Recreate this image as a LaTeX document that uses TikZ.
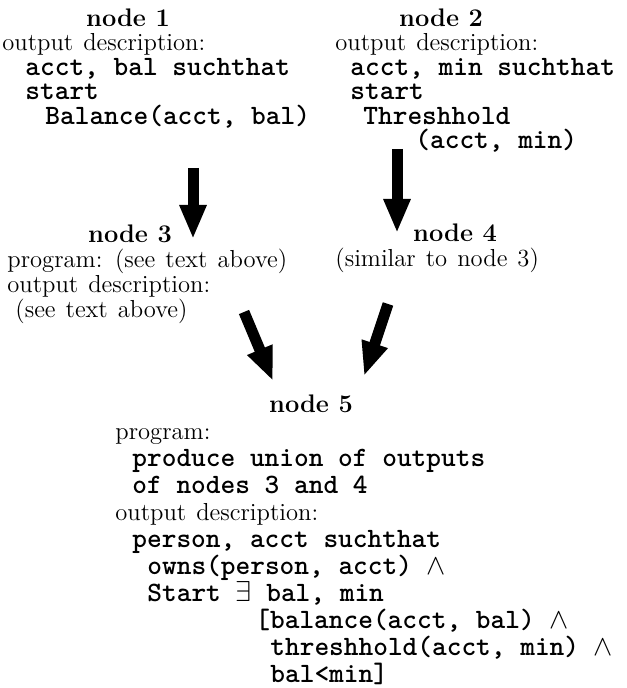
\documentclass[tikz,border=0pt]{standalone}
\usetikzlibrary{arrows.meta}
\newcommand{\code}[1]{{\spaceskip0pt\fontsize{14}{14}\ttfamily\bfseries #1}}
\newcommand{\linesat}[1]{\lineskiplimit-100pt\relax\lineskip0pt\relax\fontsize{12.3}{#1}\selectfont\spaceskip5pt plus 1pt\relax}
\tikzset{
  title/.style={anchor=base, inner sep=0pt, font=\fontsize{12.7}{12.7}\bfseries\selectfont},
  % anchor is the baseline of the last line
  body/.style={align=left, anchor=base west, inner sep=0pt, font={\linesat{#1}}},
  fatarrow/.style={line width=5.5pt, -{Triangle[length=17pt,width=12.5pt]}}
}

\begin{document}
\begin{tikzpicture}[x=0.5pt, y=-0.5pt]
            \useasboundingbox (0,0) rectangle (626,688);
            % top row
            \node[title] (t1) at (128,27) {node 1};
            \node[body=12.25pt] (b1) at (2,124.5) {output description:\\
              \hspace*{11.5pt}\code{acct, bal suchthat}\\
              \hspace*{11.5pt}\code{start}\\
              \hspace*{21.5pt}\code{Balance(acct, bal)}};
            \node[title] (t2) at (441,27) {node 2};
            \node[body=12.25pt] (b2) at (335,149) {output description:\\
              \hspace*{7.5pt}\code{acct, min suchthat}\\
              \hspace*{7.5pt}\code{start}\\
              \hspace*{14pt}\code{Threshhold}\\
              \hspace*{40pt}\code{(acct, min)}};
            % middle row
            \node[title] (t3) at (130,243) {node 3};
            \node[body=12.5pt] (b3) at (7,318) {program: (see text above)\\
              output description:\\
              \hspace*{4pt}(see text above)};
            \node[title] (t4) at (455,242) {node 4};
            \node[body=12.5pt] (b4) at (335,267) {(similar to node 3)};
            % bottom
            \node[title] (t5) at (311,412) {node 5};
            \node[body=13.5pt] (b5) at (115,682) {program:\\
              \hspace*{8.5pt}\code{produce union of outputs}\\
              \hspace*{8.5pt}\code{of nodes 3 and 4}\\
              output description:\\
              \hspace*{8.5pt}\code{person, acct suchthat}\\
              \hspace*{16pt}\code{owns(person, acct) $\wedge$}\\
              \hspace*{16pt}\code{Start $\exists$ bal, min}\\
              \hspace*{70pt}\code{[balance(acct, bal) $\wedge$}\\
              \hspace*{77.5pt}\code{threshhold(acct, min) $\wedge$}\\
              \hspace*{77.5pt}\code{bal<min]}};
            % arrows
            \coordinate (a1) at (193,168);
            \coordinate (a1e) at (193,239);
            \coordinate (a2) at (397,149);
            \coordinate (a2e) at (397,233);
            \coordinate (a3) at (244,312);
            \coordinate (a3e) at (273,381);
            \coordinate (a4) at (388,304);
            \coordinate (a4e) at (364,376);
            \draw[fatarrow] (a1) -- (a1e);
            \draw[fatarrow] (a2) -- (a2e);
            \draw[fatarrow] (a3) -- (a3e);
            \draw[fatarrow] (a4) -- (a4e);
        \end{tikzpicture}
\end{document}
